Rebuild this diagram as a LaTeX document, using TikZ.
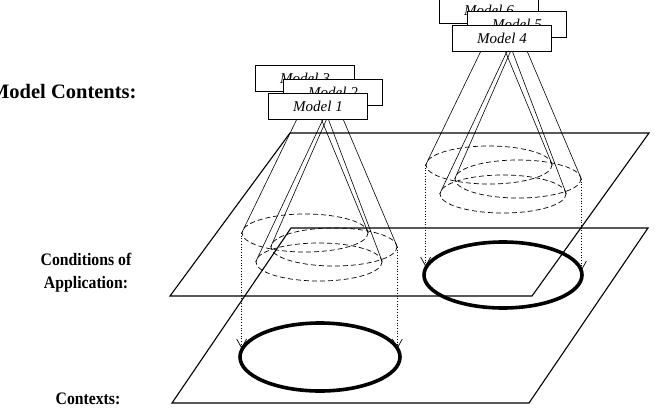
\documentclass[tikz,border=0pt]{standalone}
\usepackage{fontspec}
\setmainfont{Liberation Serif}
\newfontfamily\headfont{Liberation Serif}[FakeStretch=0.9]
\usetikzlibrary{shapes.geometric,arrows.meta}
\begin{document}
\begin{tikzpicture}[x=1pt,y=-1pt,
  plane/.style={line width=1.1pt},
  lens/.style={draw, ellipse, dash pattern=on 5pt off 3pt, line width=0.7pt, minimum width=126pt, minimum height=38pt, inner sep=0pt},
  context/.style={draw, ellipse, line width=3.6pt, inner sep=0pt},
  cone/.style={line width=0.6pt},
  proj/.style={dotted, line width=0.7pt, -{Straight Barb[length=9pt,width=10pt]}},
  modelbox/.style={draw, fill=white, line width=0.6pt, minimum width=99pt, minimum height=26pt, inner sep=0pt, font=\fontsize{15}{18}\selectfont\itshape},
  heading/.style={font=\headfont\fontsize{17.5}{23}\selectfont\bfseries, align=center}]
\useasboundingbox (0,0) rectangle (656,418);
\node[heading, anchor=base east, font=\fontsize{20.5}{24}\selectfont\bfseries] (contents) at (140,98) {Model Contents:};
\node[heading] (conditions) at (86,273) {Conditions of\\Application:};
\node[heading, anchor=base] (contexts) at (88,404) {Contexts:};
\draw[plane] (170,296) -- (532,296) -- (649,133) -- (290,133) -- cycle;
\draw[plane] (172,403) -- (529,403) -- (648,228) -- (291,228) -- cycle;
\node[context, minimum width=160pt, minimum height=68pt] (ctx1) at (320,357) {};
\node[context, minimum width=158pt, minimum height=66pt] (cond1) at (503,275) {};
\node[lens] (e3) at (305,233) {};
\node[lens] (e2) at (334,247) {};
\node[lens] (e1) at (319,262) {};
\node[lens] (e6) at (489,165) {};
\node[lens] (e5) at (518,179) {};
\node[lens] (e4) at (503,194) {};
\coordinate (a3) at (310,92);
\coordinate (a2) at (335,100);
\coordinate (a1) at (326,113);
\coordinate (a6) at (494,24);
\coordinate (a5) at (519,32);
\coordinate (a4) at (510,45);
\draw[cone] (a3) -- (e3.west) (a3) -- (e3.east);
\draw[cone] (a2) -- (e2.west) (a2) -- (e2.east);
\draw[cone] (a1) -- (e1.west) (a1) -- (e1.east);
\draw[cone] (a6) -- (e6.west) (a6) -- (e6.east);
\draw[cone] (a5) -- (e5.west) (a5) -- (e5.east);
\draw[cone] (a4) -- (e4.west) (a4) -- (e4.east);
\draw[proj] (e3.west) -- (e3.west |- ctx1.174.5);
\draw[proj] (e2.east) -- (e2.east |- ctx1.6.8);
\draw[proj] (e6.west) -- (e6.west |- cond1.174.5);
\draw[proj] (e5.east) -- (e5.east |- cond1.3.8);
\node[modelbox] (m3) at (305,78) {Model 3};
\node[modelbox] (m2) at (333,92) {Model 2};
\node[modelbox] (m1) at (318,106) {Model 1};
\node[modelbox] (m6) at (489,10) {Model 6};
\node[modelbox] (m5) at (517,24) {Model 5};
\node[modelbox] (m4) at (502,38) {Model 4};
\end{tikzpicture}
\end{document}
